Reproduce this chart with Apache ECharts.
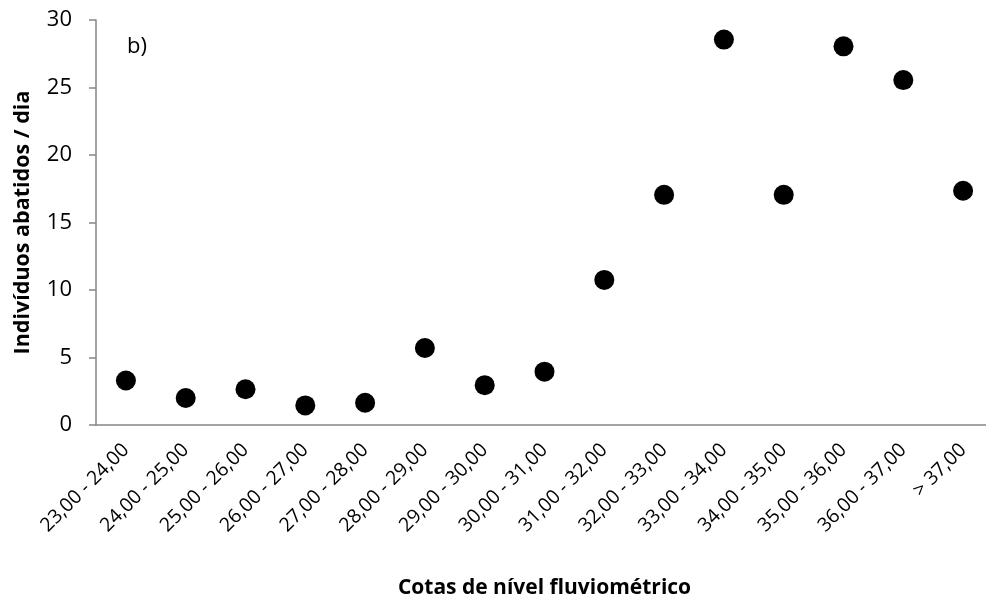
<!DOCTYPE html>
<html>
<head>
<meta charset="utf-8">
<script src="https://cdn.jsdelivr.net/npm/echarts@6/dist/echarts.min.js"></script>
<style>
  html, body { margin: 0; padding: 0; background: #fff; }
  #chart { width: 986px; height: 605px; }
</style>
</head>
<body>
<div id="chart"></div>
<script>
// classes of river level (cotas)
var cotas = ['23,00 - 24,00', '24,00 - 25,00', '25,00 - 26,00', '26,00 - 27,00', '27,00 - 28,00',
    '28,00 - 29,00', '29,00 - 30,00', '30,00 - 31,00', '31,00 - 32,00', '32,00 - 33,00',
    '33,00 - 34,00', '34,00 - 35,00', '35,00 - 36,00', '36,00 - 37,00', '> 37,00'];
// individuals per day
var individuos = [3.3, 2.0, 2.65, 1.45, 1.65, 5.7, 2.95, 3.95, 10.75, 17.05, 28.55, 17.05, 28.05, 25.55, 17.35];

var fonte = '"Open Sans", sans-serif';
var cinza = '#868686';

var chart = echarts.init(document.getElementById('chart'));
var option = {
    animation: false,
    // plot runs past the right edge, like the original
    grid: { left: 96, top: 20, width: 897, bottom: 180, containLabel: false, outerBoundsMode: 'none' },
    graphic: [{
        type: 'text', left: 127, top: 36,
        style: { text: 'b)', font: '22px ' + fonte, fill: '#000' }
    }],
    xAxis: {
        type: 'category',
        data: cotas,
        boundaryGap: true,
        name: 'Cotas de nível fluviométrico',
        nameLocation: 'middle',
        nameGap: 153,
        nameTextStyle: { fontFamily: fonte, fontSize: 21, fontWeight: 'bold', color: '#000' },
        axisLine: { lineStyle: { color: cinza, width: 1.5 } },
        axisTick: { interval: 0, length: 7, lineStyle: { color: cinza, width: 1.5 } },
        axisLabel: { interval: 0, rotate: 45, fontFamily: fonte, fontSize: 19.5, color: '#000', margin: 22 },
        splitLine: { show: false }
    },
    yAxis: {
        type: 'value',
        min: 0, max: 30, interval: 5,
        name: 'Indivíduos abatidos / dia',
        nameLocation: 'middle',
        nameGap: 62,
        nameTextStyle: { fontFamily: fonte, fontSize: 21.5, fontWeight: 'bold', color: '#000' },
        axisLine: { show: true, lineStyle: { color: cinza, width: 1.5 } },
        axisTick: { show: true, length: 7, lineStyle: { color: cinza, width: 1.5 } },
        axisLabel: { fontFamily: fonte, fontSize: 22, color: '#000', margin: 24 },
        splitLine: { show: false }
    },
    series: [{
        type: 'scatter',
        data: individuos,
        symbol: 'circle',
        symbolSize: 20,
        itemStyle: { color: '#000', opacity: 1 }
    }]
};
chart.setOption(option);
</script>
</body>
</html>
